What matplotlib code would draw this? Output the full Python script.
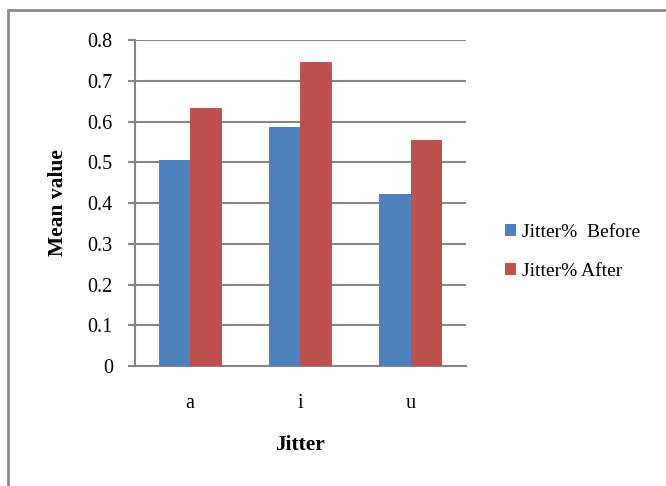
import matplotlib.pyplot as plt
from matplotlib.patches import Rectangle
import numpy as np

categories = ['a', 'i', 'u']
before = [0.505, 0.586, 0.421]
after = [0.632, 0.746, 0.554]
series_names = ['Jitter%  Before', 'Jitter% After']
yticks = [0, 0.1, 0.2, 0.3, 0.4, 0.5, 0.6, 0.7, 0.8]

plt.rcParams['font.family'] = ['Liberation Serif', 'DejaVu Serif']

fig = plt.figure(figsize=(6.66, 4.86), dpi=100)
ax = fig.add_axes([0.2027, 0.2469, 0.497, 0.6708])

x = np.arange(len(categories))
w = 0.285
ax.bar(x - w / 2, before, w, color='#4F81BD', label=series_names[0], zorder=3)
ax.bar(x + w / 2, after, w, color='#C0504D', label=series_names[1], zorder=3)

ax.set_xlim(-0.5, 2.5)
ax.set_ylim(0, 0.8)
ax.set_yticks(yticks)
ax.set_yticklabels([f'{v:g}' for v in yticks], fontsize=14.5)
ax.set_xticks(x)
ax.set_xticklabels(categories, fontsize=14.5)
ax.tick_params(axis='x', length=0, pad=20)
ax.tick_params(axis='y', length=5, width=1.5, color='#868686', pad=11)
ax.yaxis.grid(True, color='#868686', linewidth=1.5, zorder=0)
for s in ['top', 'right']:
    ax.spines[s].set_visible(False)
for s in ['left', 'bottom']:
    ax.spines[s].set_color('#868686')
    ax.spines[s].set_linewidth(1.5)

ax.set_ylabel('Mean value', fontsize=15.5, fontweight='bold', labelpad=14)
ax.set_xlabel('Jitter', fontsize=15.5, fontweight='bold', labelpad=16)

ax.legend(loc='center left', bbox_to_anchor=(0.744, 0.482), bbox_transform=fig.transFigure,
          frameon=False, fontsize=14, handlelength=0.55, handleheight=0.55,
          handletextpad=0.3, labelspacing=1.15, borderpad=0)

fig.patches.append(Rectangle((8 / 666, -0.1), 1.2, 1 - 10 / 486 + 0.1,
                             transform=fig.transFigure, fill=False,
                             edgecolor='#8c8c8c', linewidth=2))

fig.savefig('out.png', dpi=100)
